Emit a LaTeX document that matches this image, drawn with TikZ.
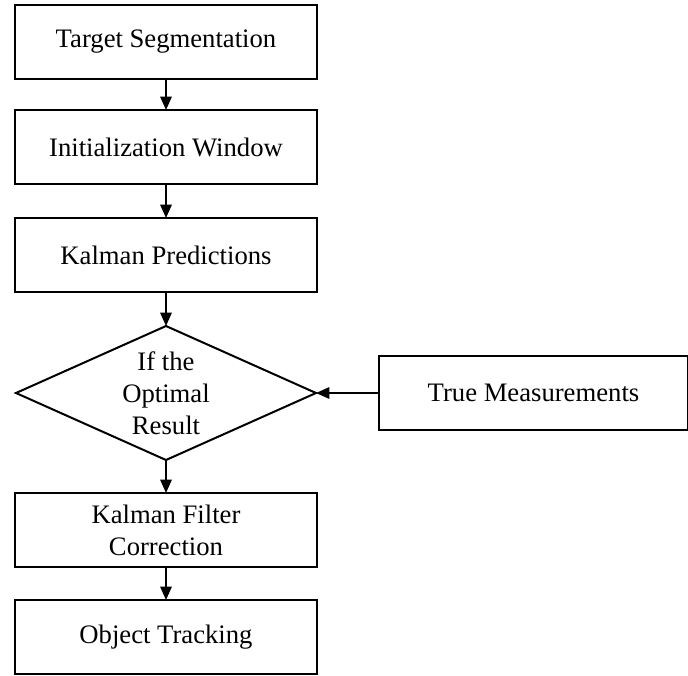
\documentclass[tikz,border=0pt]{standalone}
\usepackage{fontspec}
\setmainfont{Liberation Serif}
\usepackage{tikz}
\usetikzlibrary{positioning, shapes.geometric, arrows.meta}

\begin{document}
\begin{tikzpicture}[
    font=\fontsize{20}{24}\selectfont,
    passo/.style={rectangle, draw, line width=1.5pt, outer sep=0pt, minimum width=226.5pt, minimum height=55.5pt, align=center, inner sep=2pt},
    scelta/.style={diamond, draw, line width=1.5pt, outer sep=0pt, aspect=2.24, minimum width=225pt, minimum height=100.5pt, align=center, inner sep=0pt},
    freccia/.style={draw, line width=1.5pt, -{Triangle[length=10pt, width=8.5pt]}}
  ]
  \useasboundingbox (0,0) rectangle (516pt,-506.25pt);

  % Catena principale
  \node[passo] (segm) at (124.5pt,-31.5pt) {Target Segmentation};
  \node[passo, below=23.25pt of segm] (init) {Initialization Window};
  \node[passo, below=25.5pt of init] (pred) {Kalman Predictions};

  % Decisione
  \node[scelta, below=25.5pt of pred] (ottimo) {If the\\Optimal\\Result};

  % Misure
  \node[passo, right=47.25pt of ottimo, minimum width=231.75pt] (misure) {True Measurements};

  \node[passo, below=24.75pt of ottimo] (corr) {Kalman Filter\\Correction};
  \node[passo, below=24.75pt of corr] (track) {Object Tracking};

  % Connessioni
  \draw[freccia] (segm) -- (init);
  \draw[freccia] (init) -- (pred);
  \draw[freccia] (pred) -- (ottimo);
  \draw[freccia] (misure) -- (ottimo);
  \draw[freccia] (ottimo) -- (corr);
  \draw[freccia] (corr) -- (track);
\end{tikzpicture}
\end{document}
